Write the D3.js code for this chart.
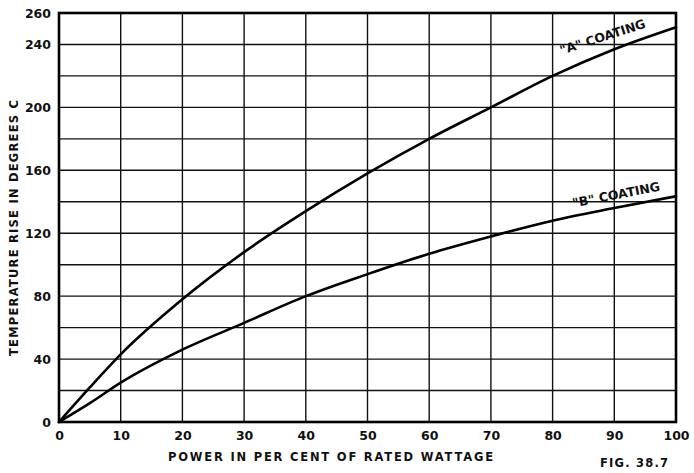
<!DOCTYPE html>
<html>
<head>
<meta charset="utf-8">
<script src="https://cdn.jsdelivr.net/npm/d3@7"></script>
<style>
  body { margin: 0; background: #fff; }
  text { font-family: "DejaVu Sans", sans-serif; font-weight: bold; fill: #111; }
</style>
</head>
<body>
<svg width="694" height="473"></svg>
<script>
// ### data ###
var power = [0, 5, 10, 20, 30, 40, 50, 60, 70, 80, 90, 100];
var coatingA = [0, 22, 43, 78, 108, 134, 158, 180, 200, 220, 237, 251];
var coatingB = [0, 12, 25, 46, 63, 80, 94, 107, 118, 128, 136, 143.5];
var xTickLabels = [0, 10, 20, 30, 40, 50, 60, 70, 80, 90, 100];
var yTickLabels = [0, 40, 80, 120, 160, 200, 240, 260];
var yGrid = d3.range(0, 261, 20);

// ### canvas ###
var margin = {top: 13, right: 18, bottom: 51, left: 59};
var width = 694 - margin.left - margin.right;
var height = 473 - margin.top - margin.bottom;

var svg = d3.select('svg');
var g = svg.append('g')
  .attr('transform', `translate(${margin.left},${margin.top})`);

var xScale = d3.scaleLinear().domain([0, 100]).range([0, width]);
var yScale = d3.scaleLinear().domain([0, 260]).range([height, 0]);

// ### grid ###
g.append('g')
  .selectAll('line')
  .data(yGrid)
  .enter()
  .append('line')
  .attr('x1', 0).attr('x2', width)
  .attr('y1', d => yScale(d)).attr('y2', d => yScale(d))
  .attr('stroke', '#111').attr('stroke-width', 1.4);

g.append('g')
  .selectAll('line')
  .data(xTickLabels)
  .enter()
  .append('line')
  .attr('y1', 0).attr('y2', height)
  .attr('x1', d => xScale(d)).attr('x2', d => xScale(d))
  .attr('stroke', '#111').attr('stroke-width', 1.4);

// frame
g.append('rect')
  .attr('x', 0).attr('y', 0)
  .attr('width', width).attr('height', height)
  .attr('fill', 'none').attr('stroke', '#000').attr('stroke-width', 2.6);

// ### axes (labels only) ###
var xAxis = d3.axisBottom(xScale).tickValues(xTickLabels).tickSize(0).tickPadding(9);
var yAxis = d3.axisLeft(yScale).tickValues(yTickLabels).tickSize(0).tickPadding(8);

var xg = g.append('g').attr('transform', `translate(0,${height})`).call(xAxis);
var yg = g.append('g').call(yAxis);
[xg, yg].forEach(a => {
  a.select('.domain').remove();
  a.selectAll('text')
    .style('font-family', '"DejaVu Sans", sans-serif')
    .style('font-weight', 'bold')
    .style('font-size', '12.5px')
    .attr('fill', '#111');
});

// ### curves ###
var line = d3.line()
  .x((d, i) => xScale(power[i]))
  .y(d => yScale(d))
  .curve(d3.curveMonotoneX);

[coatingA, coatingB].forEach(s => {
  g.append('path')
    .datum(s)
    .attr('d', line)
    .attr('fill', 'none')
    .attr('stroke', '#000')
    .attr('stroke-width', 2.6)
    .attr('stroke-linecap', 'round');
});

// curve labels
svg.append('text')
  .attr('transform', 'translate(604,41) rotate(-18)')
  .attr('text-anchor', 'middle')
  .style('font-size', '12.5px')
  .text('"A" COATING');

svg.append('text')
  .attr('transform', 'translate(617,199) rotate(-11)')
  .attr('text-anchor', 'middle')
  .style('font-size', '12.5px')
  .text('"B" COATING');

// ### titles ###
svg.append('text')
  .attr('x', 168).attr('y', 461)
  .attr('textLength', 325).attr('lengthAdjust', 'spacing')
  .style('font-size', '11.5px')
  .text('POWER IN PER CENT OF RATED WATTAGE');

svg.append('text')
  .attr('transform', 'translate(18,356) rotate(-90)')
  .attr('textLength', 256).attr('lengthAdjust', 'spacing')
  .style('font-size', '11.5px')
  .text('TEMPERATURE RISE IN DEGREES C');

svg.append('text')
  .attr('x', 600).attr('y', 467)
  .attr('textLength', 68).attr('lengthAdjust', 'spacing')
  .style('font-size', '11.5px')
  .text('FIG. 38.7');
</script>
</body>
</html>
